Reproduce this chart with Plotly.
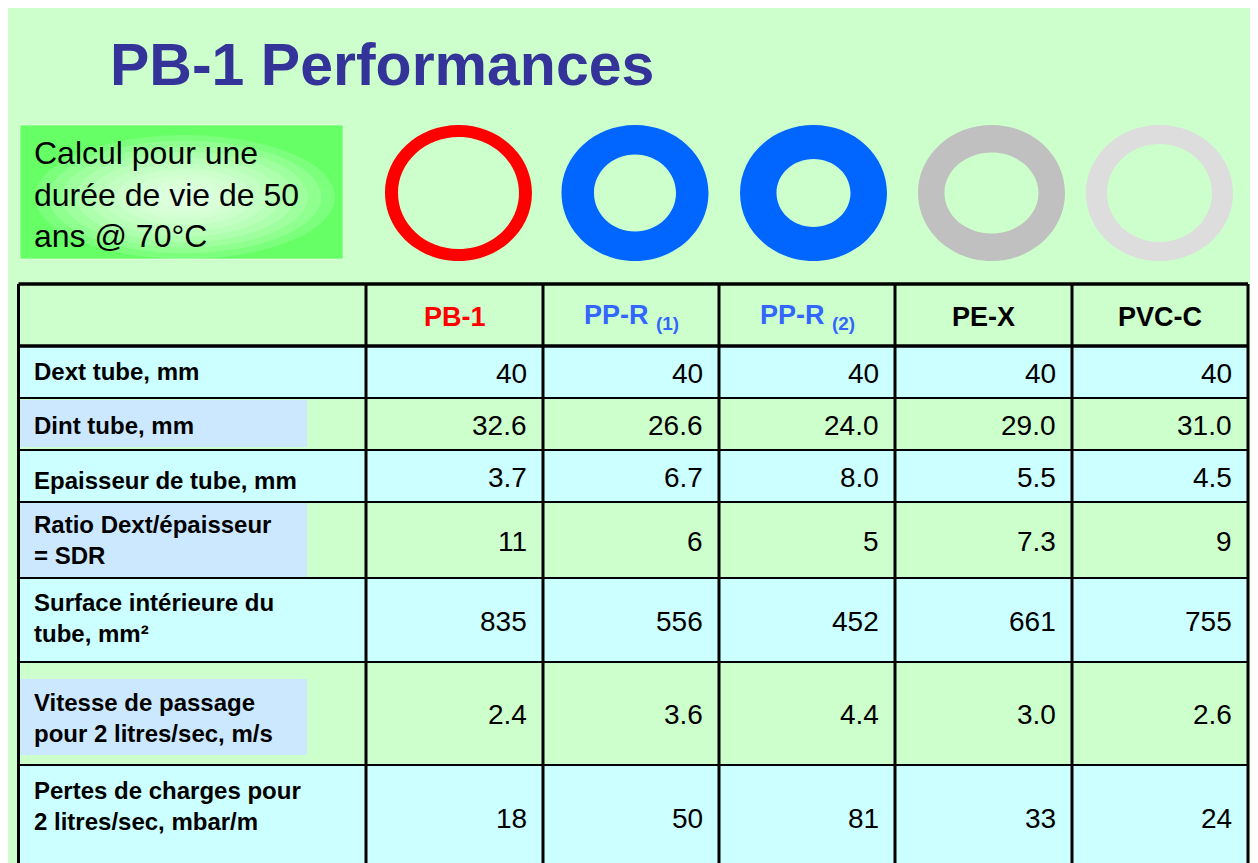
import plotly.graph_objects as go

# ---------------- data ----------------
title_text = "PB-1 Performances"
note_lines = ["Calcul pour une", "durée de vie de 50", "ans @ 70°C"]

materials = ["PB-1", "PP-R", "PP-R", "PE-X", "PVC-C"]
material_subs = ["", "(1)", "(2)", "", ""]

row_labels = [
    "Dext tube, mm",
    "Dint tube, mm",
    "Epaisseur de tube, mm",
    "Ratio Dext/épaisseur<br>= SDR",
    "Surface intérieure du<br>tube, mm²",
    "Vitesse de passage<br>pour 2 litres/sec, m/s",
    "Pertes de charges pour<br>2 litres/sec, mbar/m",
]
dext = [40, 40, 40, 40, 40]
dint = [32.6, 26.6, 24.0, 29.0, 31.0]
epaisseur = [3.7, 6.7, 8.0, 5.5, 4.5]
sdr = [11, 6, 5, 7.3, 9]
surface = [835, 556, 452, 661, 755]
vitesse = [2.4, 3.6, 4.4, 3.0, 2.6]
pertes = [18, 50, 81, 33, 24]
row_formats = ["{:.0f}", "{:.1f}", "{:.1f}", "{:g}", "{:.0f}", "{:.1f}", "{:.0f}"]

# ---------------- layout / style ----------------
W, H = 1258, 863
OFF = 8  # browser body margin
FONT = "Liberation Sans, Arial, sans-serif"
BG = "#CCFFCC"
CYAN = "#CCFFFF"
LBLUE = "#CCE8FF"
header_colors = ["#FF0000", "#3366FF", "#3366FF", "#000000", "#000000"]
ring_colors = ["#FF0000", "#0066FF", "#0066FF", "#C0C0C0", "#DDDDDD"]
ring_cx = [458.5, 635, 813.5, 991.5, 1159.5]
ring_cy = 193
ring_outer = (73.5, 68)
ring_inner = [(60.5, 56), (41, 38.5), (37, 34), (47, 40.5), (52.5, 49)]

col_x = [18.5, 366, 543, 719, 895, 1072, 1248]
row_y = [284, 346, 398, 450, 502, 578, 662, 765, 870]
row_fill = [CYAN, BG, CYAN, BG, CYAN, BG, CYAN]
label_box = {1: (400, 447), 3: (503, 578), 5: (679, 755)}
label_y = [371, 425, 480, 540, 618, 718, 806]

shapes = []
annotations = []

# page background
shapes.append(dict(type="rect", x0=8, x1=W + 2, y0=7, y1=H + 2,
                   fillcolor=BG, line=dict(width=0), layer="below"))

# note box with radial glow
shapes.append(dict(type="rect", x0=20, x1=343, y0=125, y1=259,
                   fillcolor="#66FF66", line=dict(color="rgba(255,255,255,0.5)", width=1)))
steps = 11
for i in range(steps):
    f = 1 - i / steps
    rx, ry = 150 * f, 62 * f
    shapes.append(dict(type="circle", x0=185 - rx, x1=185 + rx, y0=197 - ry, y1=197 + ry,
                       fillcolor="rgba(255,255,255,0.15)", line=dict(width=0)))


def ellipse_path(cx, cy, rx, ry):
    k = 0.5523
    p = [
        f"M{cx + rx},{cy}",
        f"C{cx + rx},{cy + k * ry} {cx + k * rx},{cy + ry} {cx},{cy + ry}",
        f"C{cx - k * rx},{cy + ry} {cx - rx},{cy + k * ry} {cx - rx},{cy}",
        f"C{cx - rx},{cy - k * ry} {cx - k * rx},{cy - ry} {cx},{cy - ry}",
        f"C{cx + k * rx},{cy - ry} {cx + rx},{cy - k * ry} {cx + rx},{cy}",
        "Z",
    ]
    return " ".join(p)


# rings
for cx, col, (irx, iry) in zip(ring_cx, ring_colors, ring_inner):
    path = ellipse_path(cx, ring_cy, *ring_outer) + " " + ellipse_path(cx, ring_cy, irx, iry)
    shapes.append(dict(type="path", path=path, fillcolor=col, fillrule="evenodd",
                       line=dict(width=0)))

# table row backgrounds
for r, fill in enumerate(row_fill):
    y0, y1 = row_y[r + 1], row_y[r + 2]
    if fill != BG:
        shapes.append(dict(type="rect", x0=col_x[0], x1=col_x[-1], y0=y0, y1=y1,
                           fillcolor=fill, line=dict(width=0)))
for r, (b0, b1) in label_box.items():
    shapes.append(dict(type="rect", x0=19, x1=307, y0=b0, y1=b1,
                       fillcolor=LBLUE, line=dict(width=0)))

# grid lines
for i, y in enumerate(row_y[:-1]):
    w = 3.5 if i <= 1 else 2.2
    shapes.append(dict(type="line", x0=col_x[0], x1=col_x[-1], y0=y, y1=y,
                       line=dict(color="black", width=w)))
for x in col_x:
    shapes.append(dict(type="line", x0=x, x1=x, y0=row_y[0], y1=row_y[-1],
                       line=dict(color="black", width=3)))

# title
annotations.append(dict(x=108, y=65, xanchor="left", yanchor="middle", showarrow=False,
                        text="<b>" + title_text + "</b>",
                        font=dict(family=FONT, size=59, color="#333399")))

# note text
annotations.append(dict(x=32, y=194, xanchor="left", yanchor="middle", showarrow=False,
                        align="left", text="<br>".join(note_lines),
                        font=dict(family=FONT, size=32, color="black")))

# header
for c, (m, s, col) in enumerate(zip(materials, material_subs, header_colors)):
    txt = "<b>" + m + "</b>"
    if s:
        txt += " <sub><b>" + s + "</b></sub>"
    cx = (col_x[c + 1] + col_x[c + 2]) / 2
    annotations.append(dict(x=cx, y=317, xanchor="center", yanchor="middle", showarrow=False,
                            text=txt, font=dict(family=FONT, size=27, color=col)))

# row labels + values
rows = [dext, dint, epaisseur, sdr, surface, vitesse, pertes]
for r, (lab, vals, fmt) in enumerate(zip(row_labels, rows, row_formats)):
    annotations.append(dict(x=32, y=label_y[r], xanchor="left", yanchor="middle",
                            showarrow=False, align="left", text="<b>" + lab + "</b>",
                            font=dict(family=FONT, size=24, color="black")))
    yc = (row_y[r + 1] + row_y[r + 2]) / 2
    for c, v in enumerate(vals):
        annotations.append(dict(x=col_x[c + 2] - 14, y=yc + 1, xanchor="right", yanchor="middle",
                                showarrow=False, text=fmt.format(v),
                                font=dict(family=FONT, size=28, color="black")))

fig = go.Figure()
fig.add_trace(go.Scatter(x=[OFF + 1], y=[OFF + 1], mode="markers", marker=dict(opacity=0),
                         hoverinfo="skip", showlegend=False))
fig.update_layout(
    width=W - OFF, height=H - OFF, margin=dict(l=0, r=0, t=0, b=0),
    paper_bgcolor="white", plot_bgcolor="white",
    xaxis=dict(range=[OFF, W], visible=False, fixedrange=True),
    yaxis=dict(range=[H, OFF], visible=False, fixedrange=True),
    shapes=shapes, annotations=annotations, showlegend=False,
)
fig.write_html("out.html")
